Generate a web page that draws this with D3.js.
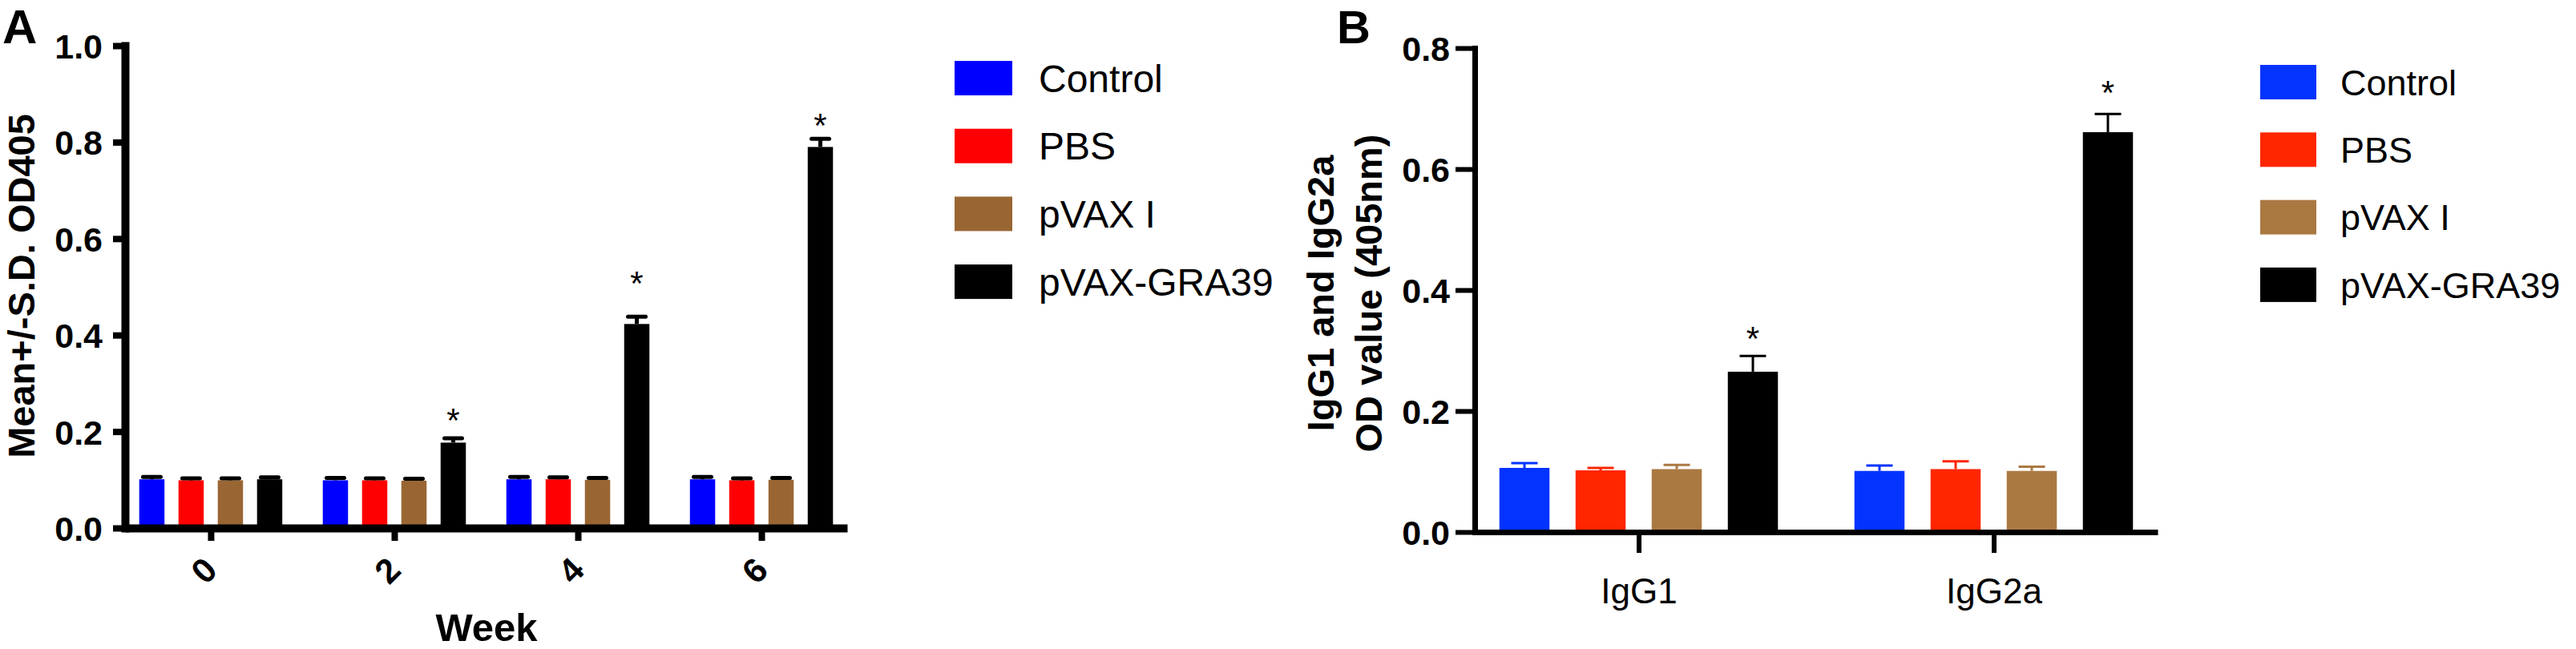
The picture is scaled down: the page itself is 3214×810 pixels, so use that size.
<!DOCTYPE html>
<html>
<head>
<meta charset="utf-8">
<script src="https://cdn.jsdelivr.net/npm/d3@7"></script>
<style>
  body { margin: 0; background: #fff; }
  svg { display: block; font-family: "Liberation Sans", Arial, Helvetica, sans-serif; }
</style>
</head>
<body>
<svg id="chart"></svg>
<script>
// ---- data ----
const groups = ["Control", "PBS", "pVAX I", "pVAX-GRA39"];

// panel A : total IgG by week
const weeks = ["0", "2", "4", "6"];
const weekControl = [0.101, 0.099, 0.101, 0.101];
const weekPBS     = [0.099, 0.099, 0.101, 0.099];
const weekPVAX    = [0.099, 0.098, 0.100, 0.100];
const weekGRA39   = [0.101, 0.177, 0.423, 0.790];
const weekSdControl = [0.005, 0.005, 0.005, 0.005];
const weekSdPBS     = [0.004, 0.004, 0.004, 0.004];
const weekSdPVAX    = [0.004, 0.004, 0.004, 0.004];
const weekSdGRA39   = [0.004, 0.009, 0.015, 0.017];
const weekStars = [null, 0.239, 0.524, 0.850];   // where the * sits
const yTicksA = [0, 0.2, 0.4, 0.6, 0.8, 1.0];

// panel B : subclasses
const subclasses = ["IgG1", "IgG2a"];
const subControl = [0.106, 0.101];
const subPBS     = [0.102, 0.104];
const subPVAX    = [0.104, 0.101];
const subGRA39   = [0.265, 0.661];
const subSdControl = [0.008, 0.009];
const subSdPBS     = [0.004, 0.013];
const subSdPVAX    = [0.007, 0.007];
const subSdGRA39   = [0.026, 0.030];
const subStars = [0.332, 0.739];
const yTicksB = [0, 0.2, 0.4, 0.6, 0.8];

const colorsA = ["#0000ff", "#ff0000", "#996633", "#000000"];
const colorsB = ["#0433ff", "#ff2600", "#aa7942", "#000000"];

// ---- chart ----
const svg = d3.select("#chart").attr("width", 3214).attr("height", 810);

function drawPanel(p) {
    const g = svg.append("g");
    const y = d3.scaleLinear().domain([0, p.yMax]).range([p.y0, p.y1]);
    const x0 = d3.scalePoint().domain(p.cats).range([p.xl, p.xr]).padding(p.pad);
    const x1 = d3.scaleBand().domain(groups)
        .range([-p.half, p.half])
        .paddingInner(p.pin).paddingOuter(p.pin / 2);

    let rows = [];
    p.cats.forEach(function(c, i) {
        groups.forEach(function(s, j) {
            rows.push({cat: c, grp: s, mean: p.means[j][i], sd: p.sds[j][i], color: p.colors[j]});
        });
    });

    g.selectAll(".bar").data(rows).join("rect")
        .attr("class", "bar")
        .attr("x", d => x0(d.cat) + x1(d.grp))
        .attr("width", x1.bandwidth())
        .attr("y", d => y(d.mean))
        .attr("height", d => y(0) - y(d.mean))
        .attr("fill", d => d.color);

    // error bars (upper half only)
    const err = g.selectAll(".err").data(rows).join("g")
        .attr("class", "err")
        .attr("transform", d => "translate(" + (x0(d.cat) + x1(d.grp) + x1.bandwidth() / 2) + ",0)");
    err.append("line")
        .attr("y1", d => y(d.mean)).attr("y2", d => y(d.mean + d.sd))
        .attr("stroke", d => p.errColor || d.color)
        .attr("stroke-width", p.errW);
    err.append("line")
        .attr("x1", -p.cap / 2).attr("x2", p.cap / 2)
        .attr("y1", d => y(d.mean + d.sd)).attr("y2", d => y(d.mean + d.sd))
        .attr("stroke", d => p.errColor || d.color)
        .attr("stroke-width", p.errW)
        .attr("stroke-linecap", p.errCap);

    // asterisks over the last series
    g.selectAll(".star").data(p.cats.map((c, i) => ({cat: c, v: p.stars[i]})).filter(d => d.v !== null))
        .join("text")
        .attr("class", "star")
        .attr("x", d => x0(d.cat) + x1(groups[3]) + x1.bandwidth() / 2)
        .attr("y", d => y(d.v) + 24)
        .attr("text-anchor", "middle")
        .style("font-size", "42px")
        .text("*");

    // y axis
    const ya = g.append("g")
        .attr("transform", "translate(" + p.yAxisX + ",0)")
        .call(d3.axisLeft(y).tickValues(p.yTicks).tickFormat(d3.format(".1f"))
            .tickSize(p.yTick).tickPadding(p.yPad).tickSizeOuter(0));
    ya.select(".domain").attr("stroke-width", p.axisW).attr("stroke-linecap", "square");
    ya.selectAll(".tick line").attr("stroke-width", p.tickW);
    ya.selectAll(".tick text")
        .attr("fill", "#000").attr("dy", "0.36em")
        .style("font-size", "43px").style("font-weight", "bold");

    // x axis
    const xa = g.append("g")
        .attr("transform", "translate(0," + y(0) + ")")
        .call(d3.axisBottom(x0).tickSize(p.xTick).tickSizeOuter(0));
    xa.select(".domain").attr("stroke-width", p.axisW);
    xa.selectAll(".tick line").attr("stroke-width", p.tickW);
    const xt = xa.selectAll(".tick text").attr("fill", "#000");
    if (p.rotate) {
        xt.attr("y", 0).attr("dy", 0)
            .attr("text-anchor", "end")
            .attr("transform", "translate(10,55) rotate(-45)")
            .style("font-size", "43px").style("font-weight", "bold");
    } else {
        xt.attr("y", p.xLabelY).attr("dy", 0)
            .style("font-size", "44px");
    }
    svg.selectAll(".tick line, .domain").attr("stroke", "#000");

    // legend
    const leg = g.selectAll(".legend").data(groups).join("g")
        .attr("class", "legend")
        .attr("transform", (d, i) => "translate(" + p.legX + "," + (p.legY + i * p.legStep) + ")");
    leg.append("rect")
        .attr("width", p.legW).attr("height", p.legH)
        .attr("fill", (d, i) => p.colors[i]);
    leg.append("text")
        .attr("x", p.legTextX - p.legX)
        .attr("y", p.legH / 2 + p.legFont * 0.36)
        .style("font-size", p.legFont + "px")
        .text(d => d);

    // panel letter
    g.append("text")
        .attr("x", p.letterX).attr("y", p.letterY)
        .style("font-size", p.letterSize + "px").style("font-weight", "bold")
        .text(p.letter);

    return {g: g, y: y, x0: x0};
}

const pa = drawPanel({
    cats: weeks, yMax: 1.0, y0: 659, y1: 57, yTicks: yTicksA,
    xl: 156, xr: 1057, pad: 0.467, half: 98, pin: 0.357,
    means: [weekControl, weekPBS, weekPVAX, weekGRA39],
    sds: [weekSdControl, weekSdPBS, weekSdPVAX, weekSdGRA39],
    stars: weekStars, colors: colorsA,
    errColor: "#000", errW: 5, cap: 22, errCap: "round",
    yAxisX: 156, yTick: 15, yPad: 13, axisW: 10, tickW: 8, xTick: 16, rotate: true,
    legX: 1191, legY: 76, legStep: 84.7, legW: 72, legH: 43, legTextX: 1296, legFont: 48,
    letter: "A", letterX: 3, letterY: 54, letterSize: 60
});

pa.g.append("text")
    .attr("transform", "translate(43,357) rotate(-90)")
    .attr("text-anchor", "middle")
    .style("font-size", "47px").style("font-weight", "bold")
    .text("Mean+/-S.D. OD405");

pa.g.append("text")
    .attr("x", 607).attr("y", 800)
    .attr("text-anchor", "middle")
    .style("font-size", "49px").style("font-weight", "bold")
    .text("Week");

const pb = drawPanel({
    cats: subclasses, yMax: 0.8, y0: 664, y1: 60, yTicks: yTicksB,
    xl: 1840, xr: 2692, pad: 0.4617, half: 190, pin: 0.342,
    means: [subControl, subPBS, subPVAX, subGRA39],
    sds: [subSdControl, subSdPBS, subSdPVAX, subSdGRA39],
    stars: subStars, colors: colorsB,
    errColor: null, errW: 3, cap: 33, errCap: "butt",
    yAxisX: 1840, yTick: 24, yPad: 7, axisW: 7, tickW: 6, xTick: 26, rotate: false, xLabelY: 89,
    legX: 2820, legY: 81, legStep: 84.3, legW: 70, legH: 43, legTextX: 2920, legFont: 45,
    letter: "B", letterX: 1668, letterY: 54, letterSize: 58
});

const titleB = pb.g.append("text")
    .attr("transform", "translate(1664,366) rotate(-90)")
    .attr("text-anchor", "middle")
    .style("font-size", "47px").style("font-weight", "bold");
titleB.append("tspan").attr("x", 0).attr("y", 0).text("IgG1 and IgG2a");
titleB.append("tspan").attr("x", 0).attr("y", 60).text("OD value (405nm)");
</script>
</body>
</html>
